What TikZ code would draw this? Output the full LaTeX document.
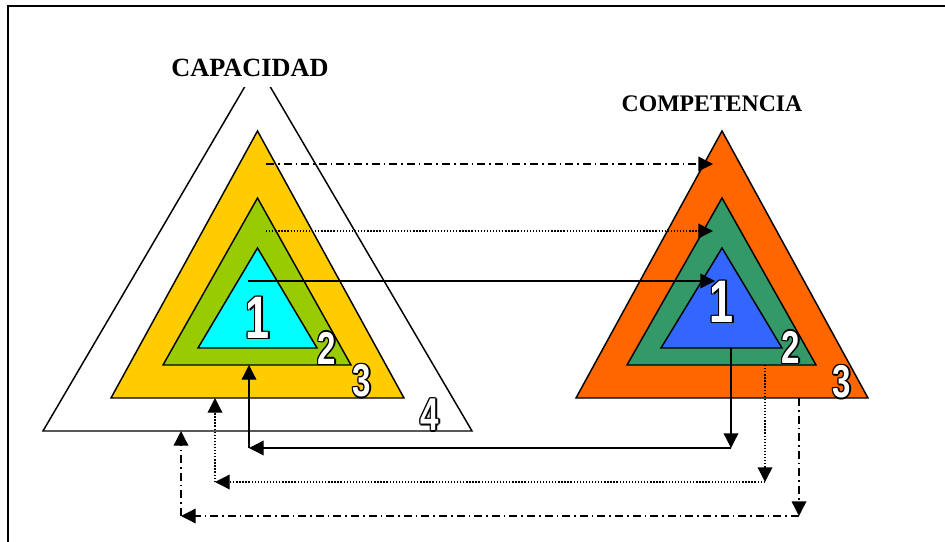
\documentclass[tikz,border=0pt]{standalone}
\usepackage{fontspec}
\setmainfont{Liberation Serif}
\newfontfamily\digitfont{Liberation Sans}[FakeStretch=0.72]
\usetikzlibrary{arrows.meta}

\definecolor{capyellow}{HTML}{FFCC00}
\definecolor{capgreen}{HTML}{99CC00}
\definecolor{capcyan}{HTML}{00FFFF}
\definecolor{comporange}{HTML}{FF6600}
\definecolor{compgreen}{HTML}{339966}
\definecolor{compblue}{HTML}{3366FF}

% white digit with a thin black rim
\newcommand\rimdigit[1]{%
  \rlap{\hspace{-1pt}#1}\rlap{\hspace{1pt}#1}%
  \rlap{\raisebox{1pt}{#1}}\rlap{\raisebox{-1pt}{#1}}%
  \rlap{\hspace{-.75pt}\raisebox{.75pt}{#1}}\rlap{\hspace{.75pt}\raisebox{.75pt}{#1}}%
  \rlap{\hspace{-.75pt}\raisebox{-.75pt}{#1}}\rlap{\hspace{.75pt}\raisebox{-.75pt}{#1}}%
  \textcolor{white}{#1}}

\tikzset{
  tri/.style={draw=black, line width=1.1pt, line join=miter},
  digit/.style={inner sep=0pt, font=\digitfont\bfseries\fontsize{34.5}{34.5}\selectfont},
  bigdigit/.style={digit, font=\digitfont\bfseries\fontsize{45}{45}\selectfont},
  title/.style={font=\bfseries\fontsize{19.7}{20}\selectfont},
  link/.style={line width=1pt, -{Triangle[length=11pt,width=11pt]}},
  linksolid/.style={link},
  linkdot/.style={link, dash pattern=on 1pt off 1.3pt},
  linkdd/.style={link, dash pattern=on 6pt off 3pt on 1.2pt off 3pt},
}

\begin{document}
\begin{tikzpicture}[x=0.75pt, y=-0.75pt]
 \useasboundingbox (0,0) rectangle (945,542);
 \draw[line width=1.5pt] (8,542) -- (8,6) -- (945,6);

 % CAPACIDAD
 \filldraw[tri, fill=white]      (43,431)  -- (257.5,65)  -- (472,431)  -- cycle;
 \filldraw[tri, fill=capyellow]  (111,398) -- (257.5,131) -- (404,398)  -- cycle;
 \filldraw[tri, fill=capgreen]   (163,365) -- (257.5,198) -- (351,365)  -- cycle;
 \filldraw[tri, fill=capcyan]    (198,348) -- (257.5,248) -- (317,348)  -- cycle;

 % COMPETENCIA
 \filldraw[tri, fill=comporange] (576,398) -- (722,131) -- (868,398) -- cycle;
 \filldraw[tri, fill=compgreen]  (627,365) -- (722,198) -- (816,365) -- cycle;
 \filldraw[tri, fill=compblue]   (661,348) -- (722,248) -- (782,348) -- cycle;

 \coordinate (cap3) at (266,164);
 \coordinate (cap2) at (266,231);
 \coordinate (cap1) at (248,281);
 \coordinate (comp3) at (713,164);
 \coordinate (comp2) at (713,231);
 \coordinate (comp1) at (715,281);

 \coordinate (comp1base) at (731,348);
 \coordinate (comp2base) at (765,365);
 \coordinate (comp3base) at (799,398);
 \coordinate (comp1low) at (731,448);
 \coordinate (comp2low) at (765,482);
 \coordinate (comp3low) at (799,516);
 \coordinate (cap1low) at (249,448);
 \coordinate (cap2low) at (215,482);
 \coordinate (cap3low) at (181,516);
 \coordinate (cap1base) at (249,365);
 \coordinate (cap2base) at (215,398);
 \coordinate (cap3base) at (181,431);

 \draw[linkdd]    (cap3) -- (comp3);
 \draw[linkdot]   (cap2) -- (comp2);
 \draw[linksolid] (cap1) -- (comp1);

 \draw[linksolid] (comp1base) -- (comp1low);
 \draw[linksolid] (comp1low) -- (cap1low);
 \draw[linksolid] (cap1low) -- (cap1base);
 \draw[linkdot]   (comp2base) -- (comp2low);
 \draw[linkdot]   (comp2low) -- (cap2low);
 \draw[linkdot]   (cap2low) -- (cap2base);
 \draw[linkdd]    (comp3base) -- (comp3low);
 \draw[linkdd]    (comp3low) -- (cap3low);
 \draw[linkdd]    (cap3low) -- (cap3base);

 \node[bigdigit] (capone)   at (258,318) {\rimdigit{1}};
 \node[digit]    (captwo)   at (327,348) {\rimdigit{2}};
 \node[digit]    (capthree) at (362,381) {\rimdigit{3}};
 \node[digit]    (capfour)  at (430,415) {\rimdigit{4}};
 \node[bigdigit] (compone)   at (722,302) {\rimdigit{1}};
 \node[digit]    (comptwo)   at (791,347) {\rimdigit{2}};
 \node[digit]    (compthree) at (842,382) {\rimdigit{3}};

 \node[title, fill=white, inner xsep=4pt, inner ysep=8.2pt] (capacidad) at (250,67.5) {CAPACIDAD};
 \node[title, font=\bfseries\fontsize{17.8}{18}\selectfont] (competencia) at (712,104) {COMPETENCIA};
\end{tikzpicture}
\end{document}
